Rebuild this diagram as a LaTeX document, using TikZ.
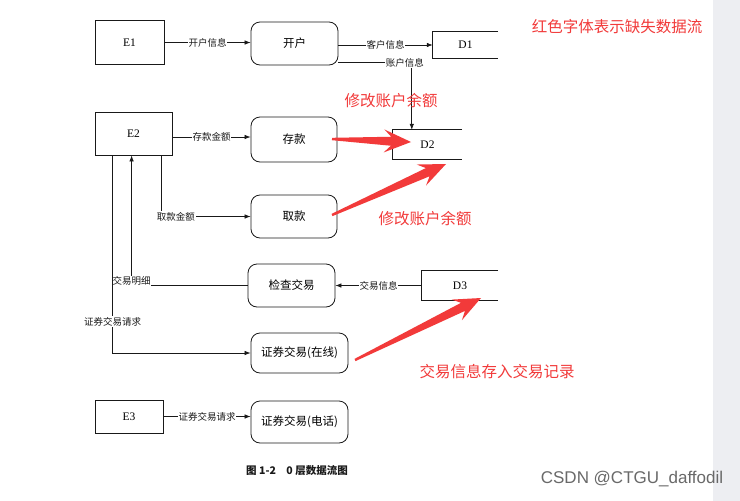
\documentclass[tikz,border=0pt]{standalone}
\usepackage{fontspec}
\setmainfont{Liberation Serif}
\newfontfamily\cjk{Noto Sans CJK SC}
\newfontfamily\wmsans{Liberation Sans}
\usetikzlibrary{arrows.meta,calc}
\definecolor{redann}{RGB}{242,58,58}
\definecolor{ink}{RGB}{25,25,25}
\definecolor{bandgray}{RGB}{237,238,242}
\definecolor{wm}{RGB}{105,105,105}
\newcommand{\fatarrow}[2]{%
  \fill[redann] ($(#1)!1.2pt!90:(#2)$)
    -- ($(#2)!20pt!(#1)!4.5pt!90:(#2)$)
    -- ($(#2)!27pt!(#1)!11.5pt!90:(#2)$)
    -- (#2)
    -- ($(#2)!27pt!(#1)!11.5pt!-90:(#2)$)
    -- ($(#2)!20pt!(#1)!4.5pt!-90:(#2)$)
    -- ($(#1)!1.2pt!-90:(#2)$) -- cycle;}
\begin{document}
\begin{tikzpicture}[x=1pt,y=-1pt,
  ent/.style={draw=ink, line width=0.8pt, inner sep=0pt, font=\fontsize{11.5}{11.5}\selectfont},
  proc/.style={draw=ink, line width=0.8pt, rounded corners=9pt, inner sep=0pt, font=\cjk\fontsize{11.5}{12}\selectfont},
  store/.style={inner sep=0pt, font=\fontsize{11.5}{11.5}\selectfont},
  lbl/.style={fill=white, inner sep=0.8pt, font=\cjk\fontsize{9.5}{9.5}\selectfont, text=ink},
  arr/.style={draw=ink, line width=0.7pt, -{Latex[length=6pt,width=4.5pt]}},
  ln/.style={draw=ink, line width=0.7pt},
  redtxt/.style={text=redann, font=\cjk\fontsize{15.5}{16}\selectfont, inner sep=0pt}]
\useasboundingbox (0,0) rectangle (740,501);
\fill[white] (0,0) rectangle (740,501);
\fill[bandgray] (713,0) rectangle (740,501);

% entities
\node[ent, minimum width=69pt, minimum height=44pt] (e1) at (129.5,42.5) {E1};
\node[ent, minimum width=77pt, minimum height=43pt] (e2) at (133.5,133.5) {E2};
\node[ent, minimum width=68pt, minimum height=33pt] (e3) at (129,416.5) {E3};

% processes
\node[proc, minimum width=87pt, minimum height=43pt] (kh) at (294.5,43.5) {开户};
\node[proc, minimum width=86pt, minimum height=45pt] (ck) at (294,139.5) {存款};
\node[proc, minimum width=86pt, minimum height=43pt] (qk) at (294,216.5) {取款};
\node[proc, minimum width=87pt, minimum height=43pt] (jc) at (291.5,285.5) {检查交易};
\node[proc, minimum width=97pt, minimum height=40pt] (zq) at (299.5,353) {证券交易(在线)};
\node[proc, minimum width=97pt, minimum height=42pt] (zd) at (299.5,422) {证券交易(电话)};

% data stores
\node[store, minimum width=65pt, minimum height=26pt] (d1) at (465.5,45) {D1};
\node[store, minimum width=69pt, minimum height=29pt] (d2) at (427.5,144.5) {D2};
\node[store, minimum width=76pt, minimum height=29pt] (d3) at (460,285.5) {D3};
\foreach \s in {d1,d2,d3}
  \draw[ln] (\s.north east) -- (\s.north west) -- (\s.south west) -- (\s.south east);

% helper points on node borders
\coordinate (khb) at ($(kh.south east)+(0,-3)$);
\coordinate (d2in) at ($(d2.north west)+(19,0)$);
\coordinate (e2o) at ($(e2.east)+(0,3.5)$);
\coordinate (e2q) at ($(e2.south west)+(67,0)$);
\coordinate (e2m) at ($(e2.south west)+(37,0)$);
\coordinate (e2z) at ($(e2.south west)+(18,0)$);

% flows
\draw[arr] (e1.east) -- node[lbl]{开户信息} (e1.east -| kh.west);
\draw[arr] (kh.east |- d1.west) -- node[lbl]{客户信息} (d1.west);
\draw[arr] (khb) -| node[lbl, pos=0.5, xshift=-7pt]{账户信息} (d2in);
\draw[arr] (e2o) -- node[lbl]{存款金额} (e2o -| ck.west);
\draw[arr] (e2q) |- node[lbl, pos=0.5, anchor=west, xshift=-6pt]{取款金额} (qk.west);
\draw[arr] (d3.west) -- node[lbl]{交易信息} (jc.east);
\draw[arr] (jc.west) -| node[lbl, pos=0.5, anchor=south, yshift=-1pt]{交易明细} (e2m);
\draw[arr] (e2z) |- node[lbl, pos=0.42]{证券交易请求} (zq.west);
\draw[arr] (e3.east) -- node[lbl]{证券交易请求} (e3.east -| zd.west);

% caption
\node[font=\cjk\bfseries\fontsize{10.5}{11}\selectfont, text=ink] (cap) at (297,471) {图 1-2\quad 0 层数据流图};

% red annotations
\node[redtxt] (note) at (617,27) {红色字体表示缺失数据流};
\node[redtxt] (m1) at (391,101) {修改账户余额};
\node[redtxt] (m2) at (425,219) {修改账户余额};
\node[redtxt] (m3) at (497,372) {交易信息存入交易记录};
\coordinate (a1s) at (332,139);
\coordinate (a1t) at (411,142);
\coordinate (a2s) at (332,215);
\coordinate (a2t) at (446,164);
\coordinate (a3s) at (355,360);
\coordinate (a3t) at (481,298);
\fatarrow{a1s}{a1t}
\fatarrow{a2s}{a2t}
\fatarrow{a3s}{a3t}

% watermark
\node[font=\wmsans\fontsize{17}{17}\selectfont, text=wm, inner sep=0pt] (wmk) at (632,479) {CSDN @CTGU\_daffodil};
\end{tikzpicture}
\end{document}
